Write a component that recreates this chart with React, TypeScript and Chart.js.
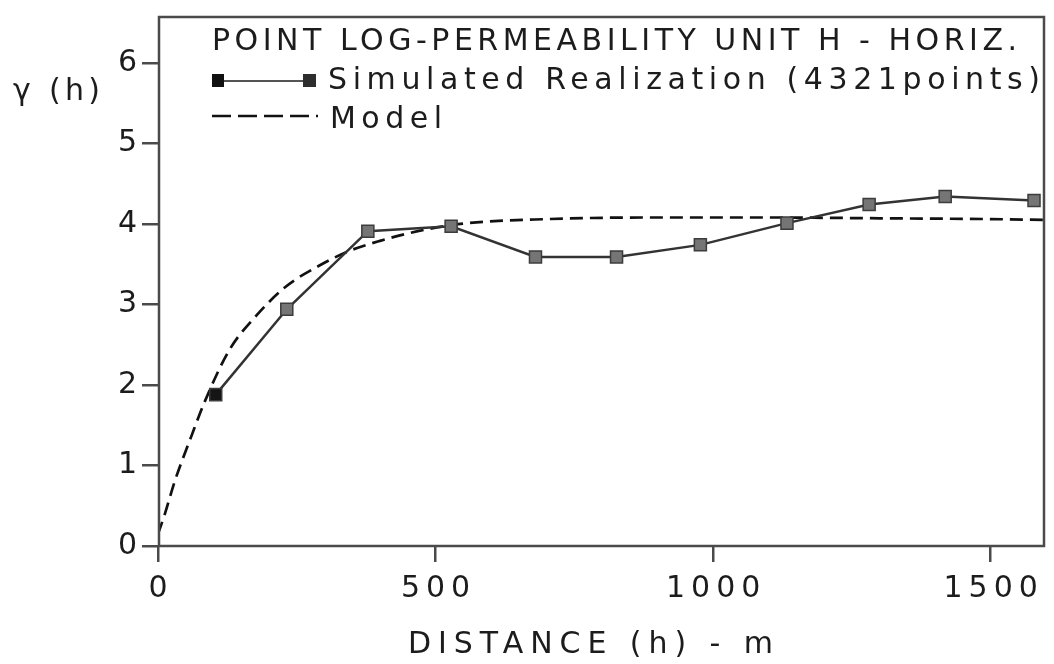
import React, { useEffect, useRef } from "react";
import { Chart, registerables } from "chart.js";

Chart.register(...registerables);

// ---- data ----
const simDistance = [104, 232, 378, 528, 680, 826, 977, 1133, 1281, 1418, 1578];
const simGamma = [1.88, 2.94, 3.91, 3.97, 3.59, 3.59, 3.74, 4.01, 4.24, 4.34, 4.29];

const modelDistance = [0, 12, 30, 61, 84, 129, 177, 230, 290, 343, 400, 468, 545, 700, 900, 1100, 1300, 1500, 1596];
const modelGamma = [0.15, 0.39, 0.8, 1.38, 1.79, 2.44, 2.86, 3.22, 3.48, 3.66, 3.79, 3.91, 4.0, 4.06, 4.08, 4.08, 4.07, 4.06, 4.05];

const xTicks = [0, 500, 1000, 1500];
const yTicks = [0, 1, 2, 3, 4, 5, 6];

const titleText = "POINT LOG-PERMEABILITY UNIT H - HORIZ.";
const simLabel = "Simulated Realization (4321points)";
const modelLabel = "Model";
const xTitle = "DISTANCE (h) - m";
const yTitle = "\u03b3 (h)";

const FONT_FAMILY = '"DejaVu Sans", "Liberation Sans", Arial, sans-serif';
const FONT = `30px ${FONT_FAMILY}`;
const INK = "#1c1c1c";
const AXIS = "#4a4a4a";
const TICK_SPACING = 6;

function fitText(ctx: CanvasRenderingContext2D, text: string, x: number, y: number, width: number) {
  ctx.save();
  (ctx as any).letterSpacing = "0px";
  ctx.font = FONT;
  const w = ctx.measureText(text).width;
  const s = text.length > 1 ? (width - w) / (text.length - 1) : 0;
  (ctx as any).letterSpacing = `${s}px`;
  ctx.textAlign = "left";
  ctx.textBaseline = "alphabetic";
  ctx.fillStyle = INK;
  ctx.fillText(text, x, y);
  ctx.restore();
}

const decorPlugin = {
  id: "decor",
  beforeDraw(chart: any) {
    (chart.ctx as any).letterSpacing = `${TICK_SPACING}px`;
  },
  beforeDatasetsDraw(chart: any) {
    (chart.ctx as any).letterSpacing = "0px";
  },
  afterDraw(chart: any) {
    const ctx: CanvasRenderingContext2D = chart.ctx;
    const a = chart.chartArea;
    ctx.save();
    (ctx as any).letterSpacing = "0px";
    // frame
    ctx.strokeStyle = AXIS;
    ctx.lineWidth = 2.5;
    ctx.setLineDash([]);
    ctx.strokeRect(a.left + 1, a.top, a.right - a.left - 1, a.bottom - a.top);

    // legend: simulated
    ctx.strokeStyle = "#555";
    ctx.lineWidth = 2;
    ctx.beginPath();
    ctx.moveTo(224, 81);
    ctx.lineTo(303, 81);
    ctx.stroke();
    ctx.fillStyle = "#111";
    ctx.fillRect(212, 74, 12, 13);
    ctx.fillStyle = "#2e2e2e";
    ctx.fillRect(303, 74, 13, 13);
    // legend: model
    ctx.strokeStyle = "#111";
    ctx.lineWidth = 2.5;
    ctx.setLineDash([19, 7]);
    ctx.beginPath();
    ctx.moveTo(212, 116);
    ctx.lineTo(318, 116);
    ctx.stroke();
    ctx.setLineDash([]);
    ctx.restore();

    fitText(ctx, titleText, 212, 50, 805);
    fitText(ctx, simLabel, 328, 89, 712);
    fitText(ctx, modelLabel, 330, 128, 112);
    fitText(ctx, yTitle, 13, 100, 87);
    fitText(ctx, xTitle, 408, 653, 365);
  },
};

export default function App() {
  const ref = useRef<HTMLCanvasElement | null>(null);

  useEffect(() => {
    if (!ref.current) return;
    const simData = simDistance.map((x, i) => ({ x, y: simGamma[i] }));
    const modelData = modelDistance.map((x, i) => ({ x, y: modelGamma[i] }));
    const chart = new Chart(ref.current, {
      type: "line",
      data: {
        datasets: [
          {
            label: simLabel,
            data: simData,
            order: 0,
            borderColor: "#333",
            borderWidth: 2.5,
            pointStyle: "rect",
            pointRadius: 8.5,
            pointBackgroundColor: simGamma.map((_, i) => (i === 0 ? "#151515" : "#757575")),
            pointBorderColor: "#3c3c3c",
            pointBorderWidth: 1.5,
            tension: 0,
            fill: false,
          },
          {
            label: modelLabel,
            data: modelData,
            order: 1,
            borderColor: "#111",
            borderWidth: 2.7,
            borderDash: [13, 7],
            pointRadius: 0,
            cubicInterpolationMode: "monotone",
            fill: false,
          },
        ],
      },
      options: {
        responsive: false,
        animation: false,
        devicePixelRatio: 1,
        layout: { padding: { top: 11, right: 1, left: 0, bottom: 0 } },
        plugins: {
          legend: { display: false },
          tooltip: { enabled: false },
          title: { display: false },
        },
        scales: {
          x: {
            type: "linear",
            min: 0,
            max: 1596,
            afterBuildTicks: (scale: any) => {
              scale.ticks = xTicks.map((v) => ({ value: v }));
            },
            afterFit: (scale: any) => {
              scale.height = 118;
            },
            grid: {
              display: true,
              drawOnChartArea: false,
              drawTicks: true,
              tickLength: 16,
              color: AXIS,
              lineWidth: 2.5,
            },
            border: { display: false },
            ticks: {
              color: INK,
              font: { family: FONT_FAMILY, size: 30 },
              padding: 9,
              labelOffset: TICK_SPACING / 2,
              maxRotation: 0,
              autoSkip: false,
              callback: (v: any) => String(v),
            },
          },
          y: {
            type: "linear",
            min: 0,
            max: 6.57,
            afterBuildTicks: (scale: any) => {
              scale.ticks = yTicks.map((v) => ({ value: v }));
            },
            afterFit: (scale: any) => {
              scale.width = 158;
            },
            grid: {
              display: true,
              drawOnChartArea: false,
              drawTicks: true,
              tickLength: 16,
              color: AXIS,
              lineWidth: 2.5,
            },
            border: { display: false },
            ticks: {
              color: INK,
              font: { family: FONT_FAMILY, size: 30 },
              padding: -1,
              autoSkip: false,
              callback: (v: any) => String(v),
            },
          },
        },
      },
      plugins: [decorPlugin],
    } as any);
    return () => chart.destroy();
  }, []);

  return (
    <div style={{ position: "absolute", left: 0, top: 0, width: 1054, height: 664, background: "#fff" }}>
      <canvas ref={ref} width={1054} height={664} style={{ display: "block" }} />
    </div>
  );
}
